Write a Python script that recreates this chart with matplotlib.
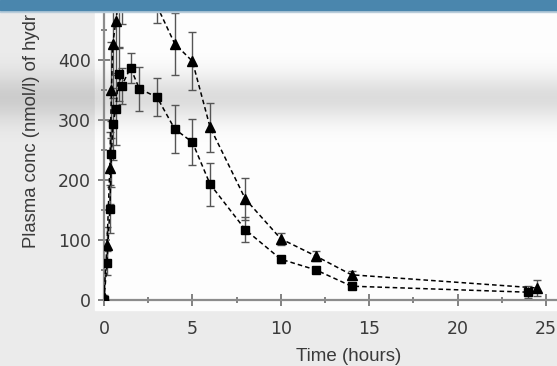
import numpy as np
import matplotlib
matplotlib.use("Agg")
import matplotlib.pyplot as plt
from matplotlib.patches import Rectangle
from matplotlib.ticker import MultipleLocator

# Sampling times (hours) and mean plasma concentrations (nmol/l) with SD
t_sq = [0, 0.17, 0.33, 0.42, 0.5, 0.67, 0.83, 1.0, 1.5, 2, 3, 4, 5, 6, 8, 10, 12, 14, 24]
c_sq = [0, 62, 152, 243, 293, 318, 377, 357, 387, 352, 338, 285, 263, 193, 117, 68, 50, 23, 13]
e_sq = [0, 20, 40, 55, 60, 60, 45, 30, 25, 37, 32, 40, 38, 36, 21, 6, 5, 4, 10]

t_tri = [0, 0.17, 0.33, 0.42, 0.5, 0.67, 0.83, 1.0, 1.5, 2, 3, 4, 5, 6, 8, 10, 12, 14, 24.5]
c_tri = [5, 92, 220, 350, 427, 465, 500, 530, 560, 540, 490, 427, 398, 288, 168, 102, 73, 42, 20]
e_tri = [3, 30, 60, 80, 90, 90, 80, 70, 60, 50, 28, 52, 48, 41, 35, 10, 8, 6, 14]

x_ticks = [0, 5, 10, 15, 20, 25]
y_ticks = [0, 100, 200, 300, 400]
x_label = "Time (hours)"
y_label = "Plasma conc (nmol/l) of hydr"

W, H = 557, 366
fig = plt.figure(figsize=(W / 100, H / 100), dpi=100)

# page background, white panel and soft horizontal sheen
bg = fig.add_axes([0, 0, 1, 1], zorder=-5)
bg.set_xlim(0, W)
bg.set_ylim(H, 0)
bg.axis("off")
bg.add_patch(Rectangle((0, 0), W, H, color="#ebebeb", zorder=0))
bg.add_patch(Rectangle((95, 0), W - 95, 310, color="#fdfdfd", zorder=1))
rows = np.arange(H, dtype=float)
alpha = 0.13 * np.exp(-((rows - 97) / 24.0) ** 2)
alpha[(rows < 52) | (rows > 142)] = 0
sheen = np.zeros((H, 1, 4))
sheen[..., 3] = alpha[:, None]
bg.imshow(sheen, extent=(0, W, H, 0), aspect="auto", interpolation="bilinear", zorder=2)

# main axes: t=0 at x=104 px, c=0 at y=300 px
px_per_h = 17.68
px_per_c = 0.6
ax = fig.add_axes([104 / W, (H - 300) / H, (W - 104) / W, 300 / H], zorder=1)
ax.set_facecolor("none")
ax.set_xlim(0, (W - 104) / px_per_h)
ax.set_ylim(0, 300 / px_per_c)

for s in ("top", "right"):
    ax.spines[s].set_visible(False)
for s in ("left", "bottom"):
    ax.spines[s].set_color("#8c8c8c")
    ax.spines[s].set_linewidth(1.6)

ax.set_xticks(x_ticks)
ax.set_yticks(y_ticks)
ax.xaxis.set_minor_locator(MultipleLocator(2.5))
ax.yaxis.set_minor_locator(MultipleLocator(50))
ax.tick_params(which="major", direction="inout", length=9, width=1.3, color="#777777",
               labelsize=12.5, labelcolor="#3a3a3a", pad=5)
ax.tick_params(axis="x", which="major", pad=10)
ax.tick_params(which="minor", direction="inout", length=4, width=1.3, color="#777777")
for lab in ax.get_xticklabels() + ax.get_yticklabels():
    lab.set_fontfamily("DejaVu Sans")

line_kw = dict(color="black", lw=1.1, dashes=(3, 2))
err_kw = dict(ecolor="#555555", elinewidth=1.0, capsize=3.2, capthick=1.0)

ax.errorbar(t_sq, c_sq, yerr=e_sq, fmt="none", **err_kw, zorder=2)
ax.errorbar(t_tri, c_tri, yerr=e_tri, fmt="none", **err_kw, zorder=2)
ax.plot(t_sq, c_sq, **line_kw, zorder=3)
ax.plot(t_tri, c_tri, **line_kw, zorder=3)
ax.plot(t_sq, c_sq, ls="none", marker="s", ms=6, color="black", zorder=4)
ax.plot(t_tri, c_tri, ls="none", marker="^", ms=7.2, color="black", zorder=4)

fig.text(349 / W, (H - 361) / H, x_label, ha="center", va="baseline",
         fontsize=13.5, family="Liberation Sans", color="#3a3a3a")
fig.text(32 / W, (H - 248) / H, y_label, ha="center", va="bottom", rotation=90,
         fontsize=13.3, family="Liberation Sans", color="#3a3a3a")

# header strip across the top
fig.add_artist(Rectangle((0, 1 - 9.5 / H), 1, 9.5 / H, transform=fig.transFigure,
                         color="#4a86ad", zorder=20))
fig.add_artist(Rectangle((0, 1 - 11.5 / H), 1, 2 / H, transform=fig.transFigure,
                         color="#b8ccda", zorder=19))

fig.savefig("out.png", dpi=100)
